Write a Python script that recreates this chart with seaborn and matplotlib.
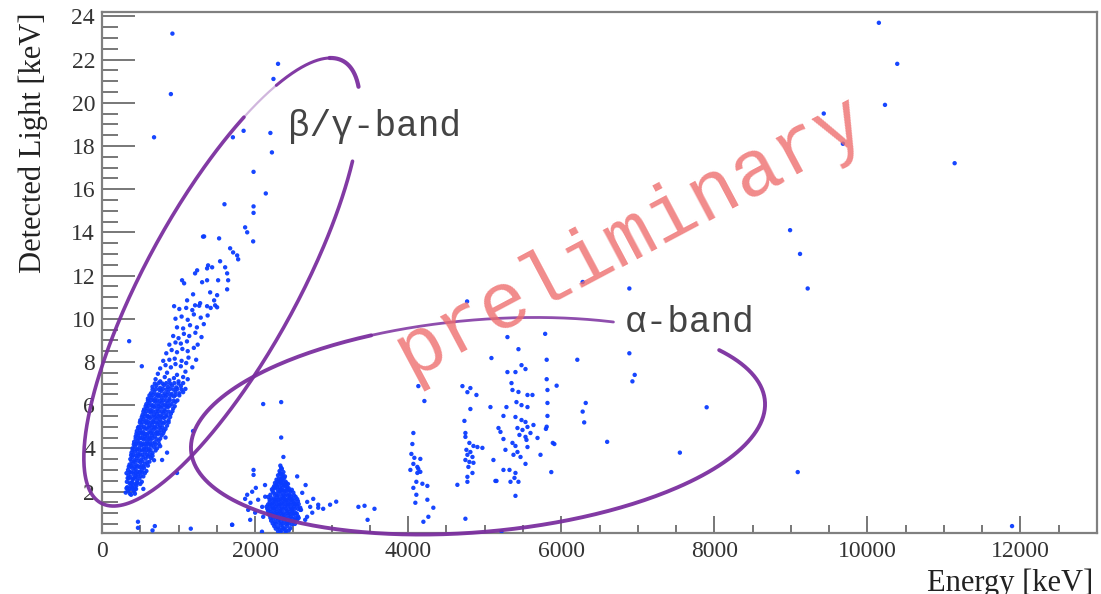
import numpy as np
import pandas as pd
import matplotlib
matplotlib.use("Agg")
import matplotlib.pyplot as plt
import seaborn as sns
from matplotlib.ticker import MultipleLocator

# ---------------- data (Energy [keV], Detected Light [keV]) ----------------
beta_core = [
    (310, 1.95), (340, 2.05), (365, 1.9), (390, 2.1), (420, 2.0), (445, 2.12), (330, 2.2), (375, 2.25), (405, 2.3), (450, 2.28),
    (325, 2.45), (350, 2.6), (380, 2.4), (400, 2.55), (430, 2.65), (460, 2.5), (490, 2.6), (520, 2.45), (345, 2.75), (415, 2.8),
    (470, 2.78), (540, 2.7), (340, 3.0), (365, 2.9), (390, 3.1), (415, 2.95), (440, 3.05), (465, 2.92), (495, 3.12), (520, 3.0),
    (550, 3.1), (580, 2.95), (360, 3.25), (405, 3.3), (450, 3.22), (500, 3.35), (560, 3.28), (600, 3.2), (370, 3.5), (395, 3.6),
    (425, 3.45), (455, 3.55), (480, 3.65), (510, 3.48), (540, 3.6), (570, 3.52), (600, 3.62), (640, 3.55), (680, 3.45), (385, 3.8),
    (430, 3.85), (470, 3.75), (520, 3.9), (560, 3.8), (610, 3.88), (660, 3.78), (400, 4.0), (430, 4.1), (460, 3.95), (490, 4.05),
    (520, 4.15), (550, 4.0), (580, 4.1), (610, 3.98), (640, 4.12), (680, 4.05), (720, 4.0), (760, 4.1), (420, 4.3), (465, 4.35),
    (505, 4.25), (545, 4.4), (590, 4.3), (635, 4.38), (690, 4.28), (740, 4.35), (440, 4.55), (470, 4.6), (500, 4.5), (530, 4.65),
    (560, 4.55), (590, 4.62), (620, 4.5), (650, 4.6), (690, 4.55), (730, 4.65), (780, 4.6), (830, 4.5), (455, 4.8), (495, 4.85),
    (540, 4.75), (585, 4.9), (630, 4.8), (675, 4.88), (720, 4.78), (770, 4.85), (810, 4.8), (480, 5.0), (515, 5.1), (550, 5.0),
    (585, 5.15), (620, 5.05), (655, 5.1), (690, 5.0), (725, 5.12), (760, 5.05), (800, 5.15), (850, 5.05), (500, 5.3), (540, 5.35),
    (580, 5.28), (625, 5.4), (670, 5.3), (715, 5.38), (760, 5.32), (810, 5.4), (870, 5.3), (530, 5.55), (565, 5.6), (600, 5.5),
    (640, 5.65), (680, 5.55), (720, 5.6), (760, 5.52), (800, 5.62), (845, 5.55), (900, 5.6), (550, 5.8), (590, 5.85), (635, 5.78),
    (680, 5.9), (725, 5.82), (770, 5.88), (815, 5.8), (860, 5.9), (930, 5.85), (580, 6.05), (620, 6.1), (660, 6.0), (700, 6.15),
    (740, 6.05), (780, 6.12), (820, 6.02), (860, 6.1), (910, 6.05), (960, 6.15), (600, 6.3), (645, 6.35), (690, 6.28), (735, 6.4),
    (780, 6.32), (830, 6.38), (880, 6.3), (940, 6.4), (640, 6.55), (685, 6.6), (730, 6.5), (775, 6.65), (820, 6.55), (865, 6.6),
    (910, 6.52), (960, 6.62), (1010, 6.55), (1060, 6.6), (660, 6.85), (710, 6.9), (760, 6.8), (810, 6.92), (860, 6.85), (915, 6.9),
    (970, 6.82), (1030, 6.88),
]

beta_core2 = [
    (320, 2.15), (355, 2.12), (395, 2.18), (430, 2.15), (460, 2.4), (360, 2.38), (395, 2.42), (440, 2.36), (500, 2.35),
    (335, 2.62), (370, 2.68), (410, 2.6), (450, 2.67), (505, 2.72), (525, 2.88), (380, 2.88), (440, 2.85), (495, 2.9), (560, 2.85),
    (320, 2.85), (350, 3.15), (380, 3.18), (425, 3.14), (470, 3.17), (515, 3.2), (540, 3.15), (590, 3.35), (385, 3.4), (430, 3.38),
    (475, 3.42), (530, 3.4), (620, 3.38), (380, 3.68), (410, 3.7), (445, 3.66), (495, 3.72), (530, 3.7), (585, 3.7), (625, 3.72),
    (660, 3.65), (400, 3.92), (455, 3.95), (495, 3.9), (545, 3.95), (585, 3.93), (635, 3.92), (700, 3.9), (415, 4.18), (445, 4.2),
    (475, 4.22), (535, 4.2), (565, 4.2), (600, 4.22), (625, 4.2), (660, 4.22), (700, 4.18), (745, 4.2), (440, 4.45), (485, 4.45),
    (525, 4.47), (570, 4.45), (610, 4.44), (660, 4.47), (710, 4.43), (760, 4.45), (450, 4.68), (485, 4.7), (515, 4.72), (555, 4.68),
    (600, 4.7), (640, 4.72), (670, 4.7), (710, 4.7), (750, 4.72), (800, 4.7), (470, 4.95), (515, 4.95), (560, 4.92), (605, 4.97),
    (650, 4.95), (700, 4.95), (745, 4.95), (790, 4.97), (830, 4.9), (495, 5.2), (530, 5.22), (570, 5.2), (605, 5.22), (640, 5.2),
    (675, 5.22), (705, 5.2), (740, 5.22), (780, 5.2), (825, 5.22), (870, 5.2), (520, 5.45), (560, 5.47), (600, 5.45), (645, 5.47),
    (690, 5.45), (735, 5.47), (785, 5.45), (835, 5.47), (890, 5.45), (540, 5.7), (580, 5.72), (620, 5.7), (660, 5.72), (700, 5.7),
    (740, 5.72), (780, 5.7), (825, 5.72), (870, 5.7), (920, 5.72), (570, 5.95), (610, 5.97), (655, 5.95), (700, 5.97), (745, 5.95),
    (790, 5.97), (840, 5.95), (885, 5.97), (950, 5.95), (600, 6.2), (640, 6.22), (680, 6.2), (720, 6.22), (760, 6.2), (800, 6.22),
    (840, 6.2), (885, 6.22), (935, 6.2), (985, 6.22), (620, 6.45), (665, 6.47), (710, 6.45), (755, 6.47), (800, 6.45), (850, 6.47),
    (900, 6.45), (960, 6.47), (1010, 6.45), (660, 6.72), (705, 6.75), (750, 6.7), (795, 6.75), (840, 6.72), (890, 6.75), (935, 6.72),
    (985, 6.75), (1040, 6.72), (1090, 6.75), (690, 7.0), (740, 7.02), (790, 7.0), (840, 7.02), (890, 7.0), (945, 7.02), (1000, 7.0),
    (1060, 7.02),
]

beta_mid = [
    (700, 7.2), (760, 7.1), (820, 7.3), (880, 7.15), (940, 7.25), (1000, 7.1), (1060, 7.3), (1120, 7.2), (730, 7.45), (850, 7.5),
    (980, 7.4), (1090, 7.55), (760, 7.7), (830, 7.85), (900, 7.75), (960, 7.9), (1030, 7.8), (1100, 7.95), (1180, 7.75), (800, 8.05),
    (880, 8.1), (950, 8.15), (1040, 8.05), (1130, 8.2), (1230, 8.1), (840, 8.4), (910, 8.55), (980, 8.45), (1050, 8.6), (1120, 8.5),
    (1200, 8.65), (880, 8.8), (960, 8.9), (1030, 8.85), (1110, 8.95), (1250, 8.8), (930, 9.2), (1000, 9.1), (1070, 9.3), (1140, 9.2),
    (1220, 9.35), (1300, 9.15), (980, 9.6), (1060, 9.55), (1150, 9.7), (1240, 9.6), (1330, 9.75), (960, 10.0), (1040, 10.1),
    (1120, 9.95), (1200, 10.2), (1290, 10.05), (1380, 10.15), (1010, 10.45), (1100, 10.5), (1180, 10.4), (1270, 10.6), (1420, 10.5),
]

beta_top = [
    (1046, 11.78), (1073, 11.64), (942, 10.58), (1112, 10.85), (1190, 11.13), (1216, 10.62), (1282, 10.72), (1373, 10.58),
    (1478, 10.62), (1504, 10.53), (1413, 11.22), (1504, 11.09), (1465, 10.85), (1308, 11.69), (1373, 11.78), (1517, 11.78),
    (1635, 11.36), (1609, 12.38), (1635, 12.1), (1648, 11.78), (1243, 12.24), (1216, 12.1), (1386, 12.47), (1373, 12.33),
    (1439, 12.38), (1543, 12.66), (1674, 13.26), (1713, 13.07), (1766, 12.93), (1779, 12.75), (1334, 13.81), (1530, 13.72),
    (1870, 14.23), (1897, 14.0), (1975, 13.58), (1320, 13.8), (1600, 15.3), (1980, 15.2), (1980, 14.9), (2140, 15.8),
    (1980, 16.8), (2220, 17.7), (2200, 18.6), (1710, 18.4), (1850, 18.7), (2240, 21.1), (2300, 21.8), (680, 18.4),
    (900, 20.4), (920, 23.2),
]

beta_stray = [
    (355, 8.96), (520, 7.8), (1190, 4.8), (850, 3.8), (785, 3.46), (980, 2.86), (540, 2.12), (430, 1.9), (380, 1.85),
    (470, 0.6), (690, 0.4), (470, 0.32), (660, 0.2), (1160, 0.28), (1700, 0.46),
]

gamma_2615 = [
    (2330, 3.2), (2350, 3.05), (2320, 2.95), (2370, 2.9), (2340, 2.8), (2300, 2.75), (2390, 2.7), (2350, 2.65),
    (2280, 2.55), (2320, 2.5), (2360, 2.55), (2400, 2.45), (2260, 2.4), (2300, 2.35), (2340, 2.4), (2380, 2.3), (2430, 2.35),
    (2250, 2.25), (2320, 2.2), (2420, 2.2), (2220, 2.1), (2260, 2.15), (2300, 2.05), (2340, 2.1), (2380, 2.0), (2420, 2.1),
    (2460, 2.0), (2240, 1.95), (2280, 1.9), (2330, 1.95), (2370, 1.85), (2410, 1.9), (2450, 1.85), (2500, 1.95), (2200, 1.85),
    (2170, 1.75), (2210, 1.7), (2250, 1.65), (2290, 1.75), (2330, 1.65), (2370, 1.7), (2410, 1.6), (2450, 1.7), (2490, 1.65),
    (2530, 1.75), (2190, 1.5), (2230, 1.45), (2270, 1.55), (2310, 1.5), (2350, 1.45), (2390, 1.55), (2430, 1.45), (2470, 1.5),
    (2510, 1.45), (2560, 1.55), (2150, 1.3), (2190, 1.35), (2230, 1.25), (2270, 1.3), (2310, 1.35), (2350, 1.25), (2390, 1.3),
    (2430, 1.35), (2470, 1.25), (2510, 1.3), (2550, 1.35), (2590, 1.25), (2170, 1.1), (2210, 1.05), (2250, 1.15), (2290, 1.05),
    (2330, 1.1), (2370, 1.0), (2410, 1.1), (2450, 1.05), (2490, 1.1), (2530, 1.0), (2190, 0.9), (2230, 0.85), (2270, 0.95),
    (2310, 0.85), (2350, 0.9), (2390, 0.8), (2430, 0.9), (2470, 0.85), (2510, 0.95), (2560, 0.85), (2210, 0.65), (2260, 0.6),
    (2300, 0.7), (2340, 0.6), (2380, 0.65), (2420, 0.55), (2460, 0.65), (2500, 0.6), (2550, 0.7), (2250, 0.4), (2300, 0.35),
    (2340, 0.45), (2380, 0.3), (2420, 0.4), (2300, 0.15), (2350, 0.2), (2400, 0.1), (2460, 0.3),
]

gamma_2615b = [
    (2340, 3.1), (2325, 2.85), (2360, 2.78), (2310, 2.6), (2345, 2.58), (2380, 2.62), (2290, 2.45), (2330, 2.45), (2370, 2.42),
    (2410, 2.38), (2275, 2.3), (2350, 2.3), (2395, 2.25), (2240, 2.18), (2285, 2.2), (2360, 2.18), (2440, 2.15), (2230, 2.02),
    (2320, 2.02), (2360, 2.05), (2400, 2.05), (2440, 2.05), (2480, 2.08), (2260, 1.82), (2300, 1.82), (2350, 1.8), (2390, 1.78),
    (2430, 1.8), (2470, 1.78), (2510, 1.82), (2190, 1.62), (2230, 1.6), (2270, 1.62), (2310, 1.62), (2350, 1.6), (2390, 1.63),
    (2430, 1.6), (2470, 1.62), (2510, 1.58), (2550, 1.65), (2170, 1.4), (2210, 1.4), (2250, 1.42), (2290, 1.4), (2330, 1.4),
    (2370, 1.42), (2410, 1.4), (2450, 1.4), (2490, 1.4), (2530, 1.42), (2570, 1.42), (2160, 1.2), (2200, 1.2), (2240, 1.22),
    (2280, 1.2), (2320, 1.2), (2360, 1.18), (2400, 1.2), (2440, 1.2), (2480, 1.18), (2520, 1.2), (2560, 1.2), (2600, 1.15),
    (2180, 0.98), (2220, 0.98), (2260, 1.0), (2300, 0.98), (2340, 1.0), (2380, 0.92), (2420, 1.0), (2460, 0.96), (2500, 1.0),
    (2545, 0.98), (2200, 0.78), (2240, 0.75), (2280, 0.78), (2320, 0.76), (2360, 0.78), (2400, 0.72), (2440, 0.76), (2480, 0.75),
    (2520, 0.78), (2570, 0.78), (2230, 0.52), (2270, 0.5), (2310, 0.55), (2360, 0.5), (2400, 0.5), (2440, 0.52), (2480, 0.48),
    (2520, 0.5), (2270, 0.28), (2320, 0.25), (2360, 0.32), (2400, 0.22), (2440, 0.2), (2330, 0.1),
]

gamma_halo = [
    (2341, 4.5), (2370, 3.6), (1980, 3.0), (1980, 2.77), (2550, 2.7), (2660, 2.3), (2130, 2.3), (2010, 2.17), (1870, 1.66),
    (1940, 1.48), (1910, 1.15), (2760, 1.66), (2720, 1.29), (2825, 1.39), (2980, 1.39), (3060, 1.53), (2890, 1.2), (2680, 0.83),
    (3350, 1.29), (3430, 1.34), (3560, 1.2), (3470, 0.69), (1700, 0.46), (2090, 0.14), (1897, 1.85), (1962, 1.99), (2040, 1.62),
    (2093, 1.29), (2001, 1.02), (2106, 0.83), (1936, 0.69), (2132, 1.76), (2616, 1.94), (2681, 1.52), (2590, 1.15), (2747, 1.02),
    (2825, 1.25), (2655, 0.69), (2524, 0.69), (2106, 6.05), (2341, 6.14),
]

alpha_4000 = [
    (4133, 6.88), (4212, 6.19), (4068, 4.71), (4055, 4.2), (4042, 3.74), (4081, 3.56), (4159, 3.51), (4068, 3.28), (4120, 3.14),
    (4133, 3.05), (4159, 2.91), (4029, 3.0), (4120, 2.86), (4107, 2.45), (4186, 2.36), (4251, 2.26), (4068, 2.17), (4107, 1.85),
    (4094, 1.48), (4251, 1.62), (4329, 1.25), (4264, 0.83), (4199, 0.6),
]

alpha_4700 = [
    (4709, 6.88), (4813, 6.79), (4774, 6.6), (4892, 6.47), (4813, 5.82), (4735, 5.27), (4748, 4.71), (4748, 4.53), (4800, 4.25),
    (4853, 4.11), (4970, 4.02), (4905, 4.06), (4761, 3.93), (4813, 3.83), (4774, 3.7), (4840, 3.6), (4748, 3.46), (4800, 3.37),
    (4853, 3.33), (4787, 3.14), (4840, 2.86), (4774, 2.68), (4643, 2.31), (4774, 2.45), (4748, 0.74),
]

alpha_5400 = [
    (5088, 8.18), (5075, 5.91), (5114, 3.46), (5154, 2.49), (5297, 9.15), (5441, 8.59), (5297, 7.53), (5402, 7.53), (5481, 7.85),
    (5533, 7.67), (5350, 7.02), (5363, 6.7), (5441, 6.61), (5559, 6.47), (5624, 6.47), (5415, 6.14), (5481, 6.0), (5559, 5.91),
    (5284, 5.91), (5245, 5.5), (5402, 5.45), (5481, 5.31), (5533, 5.22), (5637, 5.08), (5180, 4.94), (5206, 4.76), (5428, 4.94),
    (5494, 4.85), (5559, 4.99), (5454, 4.62), (5533, 4.53), (5598, 4.71), (5690, 4.48), (5245, 4.43), (5363, 4.25), (5402, 4.11),
    (5546, 4.39), (5559, 4.06), (5271, 3.93), (5428, 3.83), (5376, 3.7), (5468, 3.6), (5729, 3.7), (5533, 3.28), (5324, 3.0),
    (5402, 2.86), (5389, 2.63), (5245, 3.0), (5140, 2.49), (5337, 2.45), (5441, 2.45), (5402, 1.8), (5219, 0.15),
]

alpha_high = [
    (5790, 9.3), (5810, 8.1), (5810, 7.2), (5820, 6.7), (5940, 6.9), (5820, 6.1), (5820, 5.5), (5810, 5.0), (5800, 4.9),
    (5890, 4.25), (5910, 4.2), (5870, 2.9), (6210, 8.1), (6320, 6.1), (6280, 5.7), (6300, 5.2), (6600, 4.3), (6890, 8.4),
    (6960, 7.4), (6930, 7.1), (7900, 5.9), (7550, 3.8), (9090, 2.9), (11890, 0.4), (6280, 11.7), (6890, 11.4), (4770, 10.8),
]

outliers_high = [
    (10150, 23.7), (10390, 21.8), (10230, 19.9), (9430, 19.5), (9680, 18.1), (11140, 17.2), (8990, 14.1), (9120, 13.0),
    (9220, 11.4),
]

x_ticks = [0, 2000, 4000, 6000, 8000, 10000, 12000]
y_ticks = [2, 4, 6, 8, 10, 12, 14, 16, 18, 20, 22, 24]

groups = [beta_core, beta_core2, beta_mid, beta_top, beta_stray, gamma_2615, gamma_2615b, gamma_halo,
          alpha_4000, alpha_4700, alpha_5400, alpha_high, outliers_high]
df = pd.DataFrame([p for g in groups for p in g], columns=["energy", "light"])

# ---------------- figure ----------------
W, H = 1101, 594
sns.set_style("white")
plt.rcParams["font.family"] = ["Liberation Serif", "DejaVu Serif"]

fig = plt.figure(figsize=(W / 100, H / 100), dpi=100)
ax = fig.add_axes([102 / W, (H - 533) / H, (1097 - 102) / W, (533 - 12) / H])

sns.scatterplot(data=df, x="energy", y="light", ax=ax, color="#0a3cff",
                s=10, linewidth=0, edgecolor="none", alpha=0.95, zorder=3)

ax.set_xlim(0, 13000)
ax.set_ylim(0.08, 24.2)
ax.set_xticks(x_ticks)
ax.set_yticks(y_ticks)
ax.set_xticklabels([str(v) for v in x_ticks])
ax.set_yticklabels([str(v) for v in y_ticks])
ax.xaxis.set_minor_locator(MultipleLocator(500))
ax.yaxis.set_minor_locator(MultipleLocator(0.5))
ax.set_xlabel("")
ax.set_ylabel("")

tick_col = "#777777"
ax.tick_params(axis="y", which="major", direction="in", length=24, width=1.4, color=tick_col,
               labelsize=17, labelcolor="#333333", pad=5, left=True, right=False)
ax.tick_params(axis="y", which="minor", direction="in", length=11.5, width=1.4, color=tick_col,
               left=True, right=False)
ax.tick_params(axis="x", which="major", direction="in", length=12, width=1.4, color=tick_col,
               labelsize=17, labelcolor="#333333", pad=6, bottom=True, top=False)
ax.tick_params(axis="x", which="minor", direction="in", length=6, width=1.4, color=tick_col,
               bottom=True, top=False)
for sp in ax.spines.values():
    sp.set_visible(True)
    sp.set_color("#808080")
    sp.set_linewidth(1.6)

# ---------------- annotation shapes (hand-drawn ellipses, in pixel space) ----------------
def ellipse(cx, cy, a, b, ang_deg, t0, t1, n=300):
    t = np.radians(np.linspace(t0, t1, n))
    ang = np.radians(ang_deg)
    ux, uy = np.cos(ang), -np.sin(ang)
    vx, vy = np.sin(ang), np.cos(ang)
    x = cx + a * np.cos(t) * ux + b * np.sin(t) * vx
    y = cy + a * np.cos(t) * uy + b * np.sin(t) * vy
    return x / W, 1 - y / H

purple = "#7b2f9f"
tf = fig.transFigure
# beta/gamma ellipse (open on the upper right, faint stretch upper left)
for (t0, t1, al, lw) in [(48, 308, 0.95, 2.6), (308, 322, 0.35, 1.6), (322, 350, 0.95, 2.2), (350, 380, 0.95, 3.0)]:
    xs, ys = ellipse(222, 282, 252, 76, 61.3, t0, t1)
    ax.plot(xs, ys, transform=tf, color=purple, lw=lw, alpha=al, solid_capstyle="round", zorder=4, clip_on=False)
# alpha ellipse (open on the upper right where the label sits)
for (t0, t1, al, lw) in [(-31, 250, 0.95, 2.8), (250, 300, 0.85, 2.0)]:
    xs, ys = ellipse(478, 426, 288, 106, 5, t0, t1)
    ax.plot(xs, ys, transform=tf, color=purple, lw=lw, alpha=al, solid_capstyle="round", zorder=4, clip_on=False)

# ---------------- texts ----------------
mono = ["Liberation Mono", "DejaVu Sans Mono"]
fig.text(288 / W, 1 - 127 / H, "β/γ-band", family=mono, fontsize=26, color="#444444",
         ha="left", va="center")
fig.text(625 / W, 1 - 322 / H, "α-band", family=mono, fontsize=26, color="#444444",
         ha="left", va="center")
fig.text(630 / W, 1 - 236 / H, "preliminary", family=mono, fontsize=57, color="#ee6e6e",
         alpha=0.8, rotation=28, rotation_mode="anchor", ha="center", va="center", zorder=6)

fig.text(33 / W, 1 - 143 / H, "Detected Light [keV]", fontsize=22, color="#222222",
         rotation=90, ha="center", va="center")
fig.text(1093 / W, 1 - 591 / H, "Energy [keV]", fontsize=22, color="#222222",
         ha="right", va="baseline")

fig.savefig("out.png", dpi=100, facecolor="white")
